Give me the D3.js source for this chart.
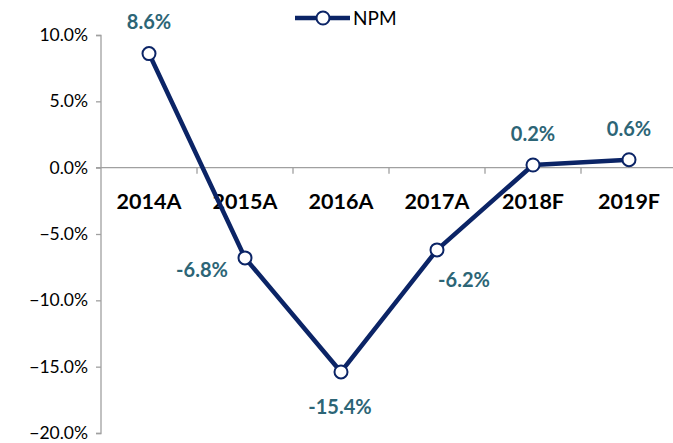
<!DOCTYPE html>
<html>
<head>
<meta charset="utf-8">
<script src="https://cdnjs.cloudflare.com/ajax/libs/d3/7.8.5/d3.min.js"></script>
<style>
  body { margin: 0; background: #fff; }
  text { font-family: Lato, "Open Sans", sans-serif; }
</style>
</head>
<body>
<div id="chart"></div>
<script>
// data
const years = ["2014A", "2015A", "2016A", "2017A", "2018F", "2019F"];
const npm = [8.6, -6.8, -15.4, -6.2, 0.2, 0.6];
const yTicks = [10, 5, 0, -5, -10, -15, -20];
// label baseline offset from each point: [dx, dy]
const labelPos = [[0, -25], [-43, 19], [-1, 42], [27, 37], [0, -24], [0, -24]];

const W = 673, H = 443;
const navy = "#0b2466", teal = "#2c6576", grey = "#a0a0a0";

const svg = d3.select("#chart")
    .append("svg")
    .attr("width", W)
    .attr("height", H);

const x = d3.scaleBand().domain(years).range([101, 677]);
const y = d3.scaleLinear().domain([-20, 10]).range([433, 35]);

// y axis
const yAxis = svg.append("g")
    .attr("transform", "translate(101,0)")
    .call(d3.axisLeft(y).tickValues(yTicks).tickSize(5).tickPadding(8)
        .tickFormat(d => d3.format(".1f")(d) + "%"));
yAxis.selectAll("path, line").attr("stroke", grey).attr("stroke-width", 1.3);
yAxis.selectAll("text").attr("font-size", 17.5).attr("fill", "#000")
    .style("font-family", "Lato, sans-serif");
yAxis.select(".domain").attr("d", "M-5,35.5H0V433.5H-5");

// zero line with category ticks
const xAxis = svg.append("g")
    .attr("transform", `translate(0,${y(0)})`);
xAxis.append("line")
    .attr("x1", 96).attr("x2", 677)
    .attr("stroke", grey).attr("stroke-width", 1.3);
xAxis.selectAll(".tk")
    .data(years.slice(1))
    .join("line")
    .attr("x1", d => x(d)).attr("x2", d => x(d))
    .attr("y1", 0).attr("y2", 6)
    .attr("stroke", grey).attr("stroke-width", 1.3);

// category labels
svg.selectAll(".cat")
    .data(years)
    .join("text")
    .attr("x", d => x(d) + x.bandwidth() / 2)
    .attr("y", 209)
    .attr("text-anchor", "middle")
    .attr("font-size", 21.5)
    .attr("font-weight", "bold")
    .attr("fill", "#000")
    .text(d => d);

// line
const pts = years.map((d, i) => [x(d) + x.bandwidth() / 2, y(npm[i])]);
svg.append("path")
    .attr("d", d3.line()(pts))
    .attr("fill", "none")
    .attr("stroke", navy)
    .attr("stroke-width", 4.5)
    .attr("stroke-linejoin", "round");

svg.selectAll(".pt")
    .data(pts)
    .join("circle")
    .attr("cx", d => d[0]).attr("cy", d => d[1])
    .attr("r", 6.5)
    .attr("fill", "#fff")
    .attr("stroke", navy)
    .attr("stroke-width", 2);

// data labels
svg.selectAll(".lbl")
    .data(npm)
    .join("text")
    .attr("x", (d, i) => pts[i][0] + labelPos[i][0])
    .attr("y", (d, i) => pts[i][1] + labelPos[i][1])
    .attr("text-anchor", "middle")
    .attr("font-size", 20)
    .attr("font-weight", "bold")
    .attr("fill", teal)
    .text(d => d.toFixed(1) + "%");

// legend
const lg = svg.append("g").attr("transform", "translate(295,18)");
lg.append("line").attr("x1", 0).attr("x2", 55)
    .attr("stroke", navy).attr("stroke-width", 4.5);
lg.append("circle").attr("cx", 28).attr("r", 6.5)
    .attr("fill", "#fff").attr("stroke", navy).attr("stroke-width", 2);
lg.append("text").attr("x", 58).attr("y", 7)
    .attr("font-size", 19).attr("fill", "#000").text("NPM");
</script>
</body>
</html>
